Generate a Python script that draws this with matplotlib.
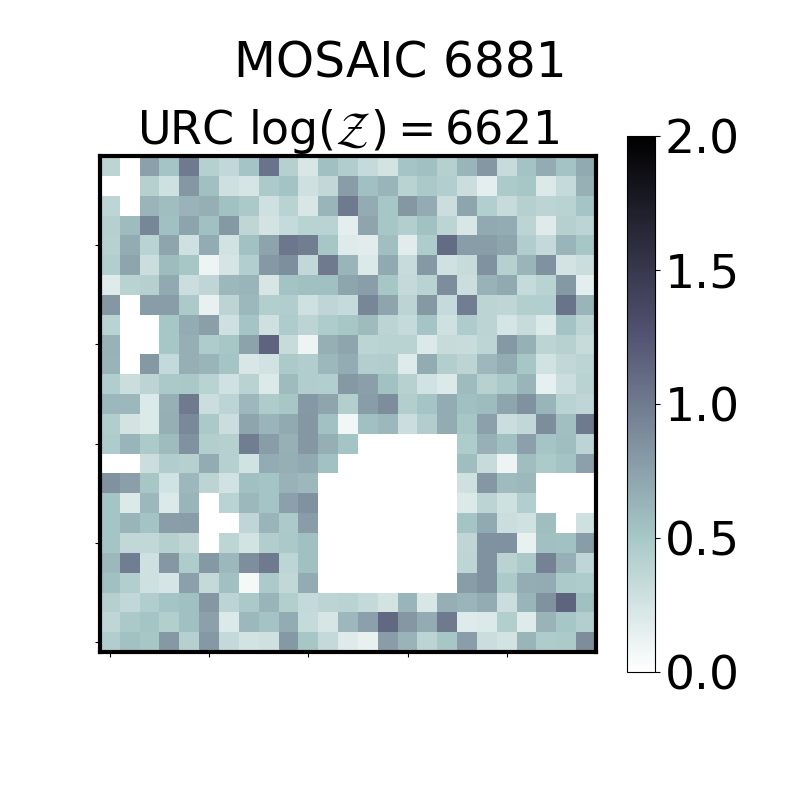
import numpy as np
import matplotlib
matplotlib.use('Agg')
import matplotlib.pyplot as plt

n = np.nan
# rows listed from the top of the picture down
rows = [
    [.38, n, .75, .52, 1.0, .42, .35, .52, 1.05, .42, .22, .55, .45, .33, .25, .52, .55, .42, .62, .82, .32, .53, .68, .53, .7],
    [n, n, .42, .28, .82, .55, .28, .24, .47, .53, .28, .35, .78, .55, .62, .4, .48, .43, .3, .15, .47, .5, .2, .33, .65],
    [.37, n, .62, .57, .63, .66, .54, .48, .28, .4, .22, .62, 1.0, .68, .5, .82, .68, .3, .72, .43, .32, .42, .38, .4, .52],
    [.42, .58, .92, .55, .73, .55, .8, .36, .25, .33, .4, .4, .15, .72, .5, .43, .54, .38, .22, .7, .68, .38, .18, .42, .38],
    [.41, .68, .4, .72, .28, .68, .26, .54, .73, 1.03, .98, .5, .18, .17, .56, .17, .46, 1.1, .78, .78, .72, .45, .34, .62, .5],
    [.43, .72, .3, .58, .5, .1, .24, .43, .8, .87, .35, 1.0, .62, .2, .7, .32, .8, .27, .32, .85, .42, .62, .85, .25, .3],
    [.18, .4, .42, .7, .3, .36, .6, .62, .23, .53, .55, .55, .72, .77, .5, .34, .4, .88, .3, .64, .7, .33, .4, .8, .15],
    [.82, n, .78, .78, .47, .13, .38, .6, .44, .45, .28, .36, .33, .92, .72, .38, .8, .33, .98, .38, .36, .44, .43, 1.05, .62],
    [.4, n, n, .5, .68, .76, .28, .52, .28, .46, .38, .46, .5, .58, .38, .33, .52, .28, .46, .38, .24, .32, .2, .53, .38],
    [.64, n, n, .5, .66, .46, .5, .74, 1.15, .32, .1, .66, .72, .38, .4, .4, .2, .32, .31, .37, .8, .65, .38, .41, .32],
    [.63, n, .8, .34, .66, .62, .52, .22, .26, .47, .45, .6, .68, .43, .45, .18, .68, .44, .39, .6, .68, .5, .26, .35, .38],
    [.45, .3, .38, .48, .49, .4, .27, .4, .2, .58, .45, .43, .8, .76, .54, .41, .26, .2, .58, .41, .48, .62, .14, .3, .4],
    [.6, .6, .2, .65, 1.0, .3, .38, .6, .46, .5, .8, .72, .44, .78, .88, .44, .52, .68, .55, .58, .72, .85, .62, .4, .36],
    [.45, .25, .2, .66, .9, .48, .3, .72, .62, .7, .82, .54, .08, .55, .6, .3, .45, .68, .5, .75, .3, .35, .88, .56, 1.0],
    [.46, .62, .47, .58, .85, .44, .42, .98, .78, .65, .82, .66, .52, n, n, n, n, n, .46, .65, .55, .75, .52, .57, .38],
    [n, n, .3, .45, .42, .68, .42, .26, .68, .66, .7, .54, n, n, n, n, n, n, .57, .32, .1, .57, .47, .53, .75],
    [.85, .76, .5, .26, .6, .38, .26, .55, .52, .64, .6, n, n, n, n, n, n, n, .28, .82, .58, .6, n, n, n],
    [.52, .2, .6, .2, .62, n, .4, .6, .52, .75, .85, n, n, n, n, n, n, n, .2, .38, .28, .43, n, n, n],
    [.52, .62, .53, .77, .78, n, n, .36, .62, .47, .78, n, n, n, n, n, n, n, .52, .7, .3, .27, .57, n, .28],
    [.52, .35, .35, .42, .36, n, .37, .25, .45, .48, .55, n, n, n, n, n, n, n, .36, .85, .85, .13, .55, .54, .78],
    [.6, .98, .28, .82, .46, .8, .6, .87, 1.0, .37, .55, n, n, n, n, n, n, n, .37, .85, .4, .48, .95, .65, .36],
    [.55, .43, .28, .24, .75, .34, .55, .07, .47, .35, .68, n, n, n, n, n, n, n, .78, .85, .47, .67, .68, .47, .46],
    [.42, .35, .45, .52, .55, .82, .38, .48, .62, .44, .34, .39, .4, .34, .25, .62, .22, .66, .62, .68, .3, .62, .85, 1.15, .55],
    [.36, .48, .52, .44, .55, .75, .2, .6, .53, .68, .33, .23, .6, .75, 1.12, .82, .68, 1.0, .18, .2, .44, .18, .63, .5, .43],
    [.45, .54, .5, .8, .42, .8, .34, .25, .28, .8, .5, .34, .18, .13, .78, .63, .38, .5, .77, .3, .25, .62, .46, .47, .88],
]
tick_pos = [0, 5, 10, 15, 20]
cbar_ticks = [0.0, 0.5, 1.0, 1.5, 2.0]

data = np.array(rows)[::-1]

fig = plt.figure(figsize=(8, 8), dpi=100)
ax = fig.add_axes([0.125, 0.185, 0.62, 0.62])
im = ax.imshow(data, origin='lower', cmap='bone_r', vmin=0, vmax=2, interpolation='nearest')
ax.set_xticks(tick_pos)
ax.set_yticks(tick_pos)
ax.set_xticklabels([])
ax.set_yticklabels([])
for s in ax.spines.values():
    s.set_linewidth(3)
ax.set_title(r'URC $\log(\mathcal{Z})=6621$', fontsize=33, pad=6)
fig.suptitle('MOSAIC 6881', fontsize=35, x=0.5, y=0.95)

cax = fig.add_axes([0.784, 0.16, 0.035, 0.67])
cb = fig.colorbar(im, cax=cax, ticks=cbar_ticks)
cb.ax.tick_params(labelsize=34)

fig.savefig('out.png', dpi=100)
